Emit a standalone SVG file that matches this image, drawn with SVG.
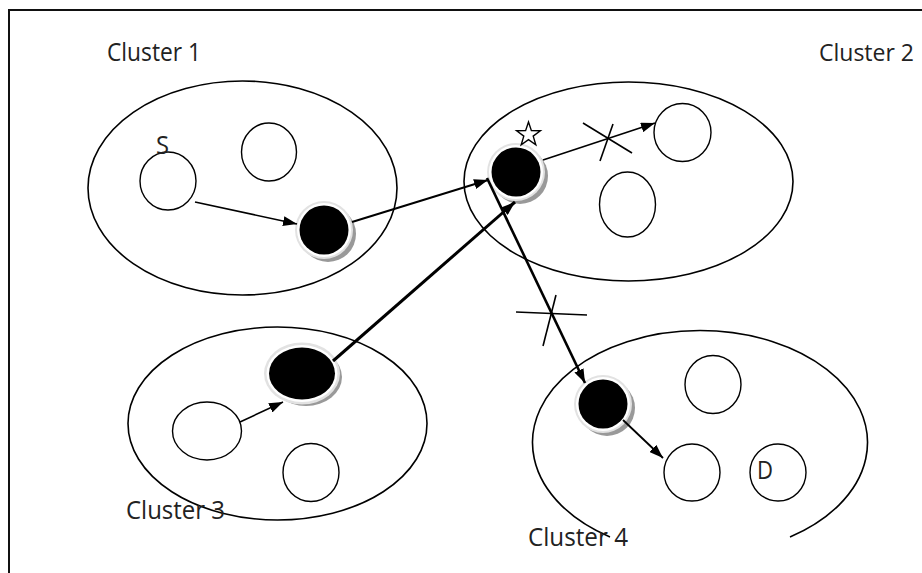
<svg xmlns="http://www.w3.org/2000/svg" width="922" height="573" viewBox="0 0 922 573">
  <style>
    .frame { fill: none; stroke: #111; stroke-width: 2; }
    .cluster { fill: none; stroke: #000; stroke-width: 1.6; }
    .node { fill: #fff; stroke: #000; stroke-width: 1.4; }
    .label { font-family: "Open Sans", "DejaVu Sans", sans-serif; font-size: 25px; fill: #222; }
    .title { font-size: 23px; }
    .edge { fill: none; stroke: #000; }
    .cross { fill: none; stroke: #000; stroke-width: 1.6; }
    .shadow { fill: #999; }
    .halo { fill: #e2e2e2; }
    .ring { fill: #fff; }
    .core { fill: #000; }
  </style>
  <defs>
    <marker id="arrow" viewBox="0 0 14 10" refX="14" refY="5" markerWidth="14" markerHeight="10" markerUnits="userSpaceOnUse" orient="auto">
      <path d="M0,0 L14,5 L0,10 z" fill="#000"/>
    </marker>
  </defs>

  <rect width="922" height="573" fill="#fff"/>
  <path class="frame" d="M9,573 V10 H922"/>

  <!-- cluster outlines -->
  <g id="cluster1">
    <ellipse class="cluster" cx="242.5" cy="188" rx="154.5" ry="107"/>
    <text class="label" x="107" y="61" textLength="94" lengthAdjust="spacingAndGlyphs">Cluster 1</text>
  </g>
  <g id="cluster2">
    <ellipse class="cluster" cx="628.5" cy="181.5" rx="164.5" ry="99.5"/>
    <text class="label title" x="819" y="61" textLength="95" lengthAdjust="spacingAndGlyphs">Cluster 2</text>
  </g>
  <g id="cluster3">
    <ellipse class="cluster" cx="277.5" cy="423.5" rx="149.5" ry="96.5"/>
    <text class="label" x="126" y="519" textLength="99" lengthAdjust="spacingAndGlyphs">Cluster 3</text>
  </g>
  <g id="cluster4">
    <path class="cluster" d="M610,537 A167.5,112 0 1 1 790,537"/>
    <text class="label" x="528" y="546" textLength="100" lengthAdjust="spacingAndGlyphs">Cluster 4</text>
  </g>

  <!-- ordinary nodes -->
  <g id="node-s">
    <ellipse class="node" cx="168" cy="181" rx="28" ry="29"/>
    <text class="label" x="156" y="154" textLength="13" lengthAdjust="spacingAndGlyphs">S</text>
  </g>
  <g id="node-c1b"><ellipse class="node" cx="269" cy="152" rx="27.5" ry="29"/></g>
  <g id="node-c2a"><ellipse class="node" cx="682.5" cy="132.5" rx="28.5" ry="29"/></g>
  <g id="node-c2b"><ellipse class="node" cx="627.5" cy="204.5" rx="28" ry="32.5"/></g>
  <g id="node-c3a"><ellipse class="node" cx="207" cy="431" rx="34.5" ry="29"/></g>
  <g id="node-c3b"><ellipse class="node" cx="311" cy="472.5" rx="28" ry="29"/></g>
  <g id="node-c4a"><ellipse class="node" cx="713" cy="384.5" rx="28" ry="29"/></g>
  <g id="node-c4b"><ellipse class="node" cx="692" cy="472.5" rx="28" ry="28.5"/></g>
  <g id="node-d">
    <ellipse class="node" cx="778" cy="472.5" rx="28" ry="28.5"/>
    <text class="label" x="757" y="479" textLength="16" lengthAdjust="spacingAndGlyphs">D</text>
  </g>

  <!-- gateway nodes (filled, with halo and drop shadow) -->
  <g id="gateway1">
    <circle class="shadow" cx="328" cy="234" r="28"/>
    <circle class="halo" cx="324" cy="230" r="29"/>
    <circle class="ring" cx="324" cy="230" r="27"/>
    <circle class="core" cx="324" cy="230" r="24.5"/>
  </g>
  <g id="gateway2">
    <circle class="shadow" cx="520" cy="176" r="28"/>
    <circle class="halo" cx="516" cy="172" r="29"/>
    <circle class="ring" cx="516" cy="172" r="27"/>
    <circle class="core" cx="516" cy="172" r="24.5"/>
    <path d="M528.5,122 L531.4,130.6 L540.4,130.7 L533.2,136.1 L535.8,144.7 L528.5,139.6 L521.2,144.7 L523.8,136.1 L516.6,130.7 L525.6,130.6 Z" fill="#fff" stroke="#000" stroke-width="1.4"/>
  </g>
  <g id="gateway3">
    <ellipse class="shadow" cx="306" cy="377" rx="36" ry="29"/>
    <ellipse class="halo" cx="302" cy="373.5" rx="38" ry="31"/>
    <ellipse class="ring" cx="302" cy="373.5" rx="35.5" ry="28.5"/>
    <ellipse class="core" cx="302" cy="373.5" rx="33" ry="26"/>
  </g>
  <g id="gateway4">
    <circle class="shadow" cx="607" cy="408" r="28"/>
    <circle class="halo" cx="603" cy="404" r="29"/>
    <circle class="ring" cx="603" cy="404" r="27"/>
    <circle class="core" cx="603" cy="404" r="24.5"/>
  </g>

  <!-- connectors -->
  <g id="connectors">
    <line class="edge" x1="195" y1="202" x2="297" y2="224" stroke-width="1.6" marker-end="url(#arrow)"/>
    <line class="edge" x1="352" y1="222" x2="488" y2="180" stroke-width="2" marker-end="url(#arrow)"/>
    <line class="edge" x1="333" y1="361" x2="515" y2="202" stroke-width="3" marker-end="url(#arrow)"/>
    <line class="edge" x1="487" y1="178" x2="585" y2="383" stroke-width="2.6" marker-end="url(#arrow)"/>
    <line class="edge" x1="543" y1="160" x2="655" y2="123" stroke-width="1.6" marker-end="url(#arrow)"/>
    <line class="edge" x1="240" y1="422" x2="283" y2="402" stroke-width="1.6" marker-end="url(#arrow)"/>
    <line class="edge" x1="623" y1="420" x2="663" y2="458" stroke-width="1.8" marker-end="url(#arrow)"/>
    <!-- broken-link marks -->
    <line class="cross" x1="583" y1="123" x2="632" y2="153"/>
    <line class="cross" x1="613" y1="124" x2="600" y2="161"/>
    <line class="cross" x1="516" y1="312" x2="587" y2="315" stroke-width="2"/>
    <line class="cross" x1="556" y1="295" x2="543" y2="346" stroke-width="2"/>
  </g>
</svg>
